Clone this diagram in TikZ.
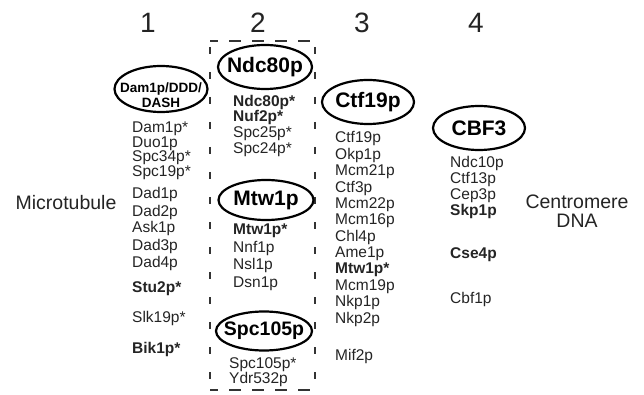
\documentclass[tikz,border=0pt]{standalone}
\usepackage{fontspec}
\setmainfont{Liberation Sans}
\usetikzlibrary{shapes.geometric}
\definecolor{ink}{gray}{0.14}
\tikzset{
  item/.style={anchor=base west, inner sep=0, text=ink, font=\fontsize{15.5}{16}\selectfont},
  bolditem/.style={item, font=\fontsize{15.5}{16}\selectfont\bfseries},
  ring/.style={ellipse, draw=black, line width=2.2pt, inner sep=0},
  ringlabel/.style={inner sep=0, text=black, font=\fontsize{21}{22}\selectfont\bfseries},
  colnum/.style={anchor=base, inner sep=0, text=ink, font=\fontsize{28}{28}\selectfont},
  sidelabel/.style={inner sep=0, text=ink, align=center, font=\fontsize{19.5}{19}\selectfont},
  hdash/.style={line width=2pt, draw=black!80, dash pattern=on 12pt off 11pt},
  vdash/.style={line width=2pt, draw=black!80, dash pattern=on 7pt off 18pt},
}
\begin{document}
\begin{tikzpicture}[x=1pt, y=-1pt]
\useasboundingbox (0,0) rectangle (644,395);

% column numbers
\node[colnum] (n1) at (148,33) {1};
\node[colnum] (n2) at (258,33) {2};
\node[colnum] (n3) at (362,33) {3};
\node[colnum] (n4) at (476,33) {4};

% side labels
\node[sidelabel, anchor=base] (mt) at (66,210) {Microtubule};
\node[sidelabel] (cen) at (577,211) {Centromere\\DNA};

% dashed frame round column 2
\coordinate (boxnw) at (210,41);
\coordinate (boxse) at (315,390);
\draw[hdash, dash phase=4pt] (boxnw) -- (boxnw -| boxse);
\draw[hdash, dash phase=4pt] (boxnw |- boxse) -- (boxse);
\draw[vdash, dash phase=-6pt] (boxnw) -- (boxnw |- boxse);
\draw[vdash, dash phase=-6pt] (boxnw -| boxse) -- (boxse);

% column 1: Dam1p/DDD/DASH complex
\node[ring, minimum width=93pt, minimum height=46pt] (dam) at (161,89) {};
\node[inner sep=0, align=center, font=\fontsize{13.5}{15.5}\selectfont\bfseries] (damlab) at (161,95) {Dam1p/DDD/\\DASH};
\node[item] (c1a) at (132,133) {Dam1p*};
\node[item] (c1b) at (132,147.5) {Duo1p};
\node[item] (c1c) at (132,162) {Spc34p*};
\node[item] (c1d) at (132,176.5) {Spc19p*};
\node[item] (c1e) at (132,199) {Dad1p};
\node[item] (c1f) at (132,216) {Dad2p};
\node[item] (c1g) at (132,233) {Ask1p};
\node[item] (c1h) at (132,250) {Dad3p};
\node[item] (c1i) at (132,267) {Dad4p};
\node[bolditem] (c1j) at (132,292) {Stu2p*};
\node[item] (c1k) at (132,322) {Slk19p*};
\node[bolditem] (c1l) at (132,353) {Bik1p*};

% column 2: Ndc80p, Mtw1p and Spc105p complexes
\node[ring, minimum width=94pt, minimum height=44pt] (ndc) at (265,67) {};
\node[ringlabel] (ndclab) at (ndc.center) {Ndc80p};
\node[bolditem] (c2a) at (233,107) {Ndc80p*};
\node[bolditem] (c2b) at (233,122) {Nuf2p*};
\node[item] (c2c) at (233,138) {Spc25p*};
\node[item] (c2d) at (233,154) {Spc24p*};

\node[ring, minimum width=95pt, minimum height=40pt] (mtw) at (266,200) {};
\node[ringlabel] (mtwlab) at (mtw.center) {Mtw1p};
\node[bolditem] (c2e) at (233,234) {Mtw1p*};
\node[item] (c2f) at (233,252) {Nnf1p};
\node[item] (c2g) at (233,269) {Nsl1p};
\node[item] (c2h) at (233,287) {Dsn1p};

\node[ring, minimum width=96pt, minimum height=39pt] (spc) at (264,331) {};
\node[ringlabel, font=\fontsize{19.5}{20}\selectfont\bfseries] (spclab) at (spc.center) {Spc105p};
\node[item] (c2i) at (229,368) {Spc105p*};
\node[item] (c2j) at (229,383) {Ydr532p};

% column 3: Ctf19p complex
\node[ring, minimum width=92pt, minimum height=44pt] (ctf) at (368,102) {};
\node[ringlabel] (ctflab) at (ctf.center) {Ctf19p};
\node[item] (c3a) at (335,143) {Ctf19p};
\node[item] (c3b) at (335,159.4) {Okp1p};
\node[item] (c3c) at (335,175.7) {Mcm21p};
\node[item] (c3d) at (335,192.1) {Ctf3p};
\node[item] (c3e) at (335,208.4) {Mcm22p};
\node[item] (c3f) at (335,224.8) {Mcm16p};
\node[item] (c3g) at (335,241.2) {Chl4p};
\node[item] (c3h) at (335,257.5) {Ame1p};
\node[bolditem] (c3i) at (335,273.9) {Mtw1p*};
\node[item] (c3j) at (335,290.2) {Mcm19p};
\node[item] (c3k) at (335,306.6) {Nkp1p};
\node[item] (c3l) at (335,323) {Nkp2p};
\node[item] (c3m) at (335,360) {Mif2p};

% column 4: CBF3 complex
\node[ring, minimum width=92pt, minimum height=44pt] (cbf) at (479,128) {};
\node[ringlabel] (cbflab) at (cbf.center) {CBF3};
\node[item] (c4a) at (450,168) {Ndc10p};
\node[item] (c4b) at (450,183.5) {Ctf13p};
\node[item] (c4c) at (450,199.5) {Cep3p};
\node[bolditem] (c4d) at (450,215) {Skp1p};
\node[bolditem] (c4e) at (450,258) {Cse4p};
\node[item] (c4f) at (450,303) {Cbf1p};
\end{tikzpicture}
\end{document}
